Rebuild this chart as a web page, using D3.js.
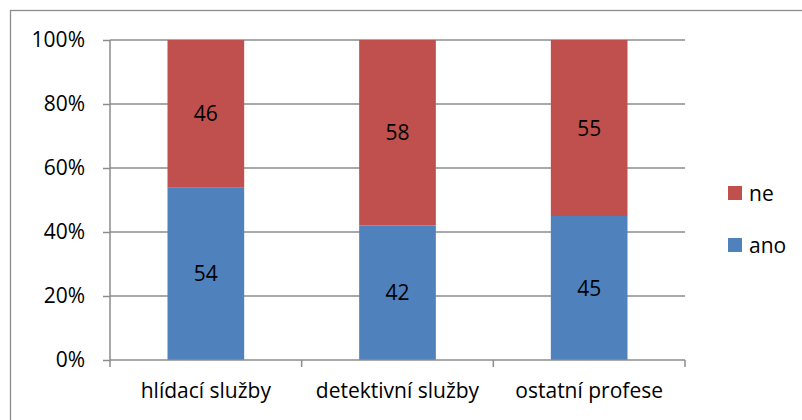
<!DOCTYPE html>
<html>
<head>
<meta charset="utf-8">
<script src="https://cdn.jsdelivr.net/npm/d3@7"></script>
<style>
  body { margin: 0; background: #fff; }
  svg text { font-family: "Open Sans", "Liberation Sans", sans-serif; fill: #000; }
</style>
</head>
<body>
<svg width="802" height="420"></svg>
<script>
// categories and series values (percent)
var categories = ["hlídací služby", "detektivní služby", "ostatní profese"];
var ano = [54, 42, 45];
var ne = [46, 58, 55];
var yTicks = [0, 20, 40, 60, 80, 100];

var svg = d3.select("svg");
var fs = "21px";

// outer chart border (only left/top edges fall inside the picture)
svg.append("rect")
    .attr("x", 10.5).attr("y", 10.5)
    .attr("width", 820).attr("height", 440)
    .attr("fill", "none")
    .attr("stroke", "#8c8c8c")
    .attr("stroke-width", 1.3);

var margin = {top: 40, left: 110},
    width = 575,
    height = 320,
    g = svg.append("g").attr("transform", "translate(" + margin.left + "," + margin.top + ")");

var x = d3.scaleBand()
    .domain(categories)
    .range([0, width])
    .paddingInner(0.6)
    .paddingOuter(0.3);

var y = d3.scaleLinear()
    .domain([0, 100])
    .range([height, 0]);

// gridlines
g.selectAll(".grid")
    .data(yTicks.slice(1))
    .enter().append("line")
    .attr("x1", 0).attr("x2", width)
    .attr("y1", function(d) { return y(d); })
    .attr("y2", function(d) { return y(d); })
    .attr("stroke", "#8c8c8c")
    .attr("stroke-width", 1.5);

// stacked data
var rows = categories.map(function(c, i) {
    return {cat: c, ano: ano[i], ne: ne[i]};
});
var stack = d3.stack().keys(["ano", "ne"])(rows);
var colors = {ano: "#4f81bd", ne: "#c0504d"};

var layers = g.selectAll(".layer")
    .data(stack)
    .enter().append("g")
    .attr("fill", function(d) { return colors[d.key]; });

layers.selectAll("rect")
    .data(function(d) { return d; })
    .enter().append("rect")
    .attr("x", function(d) { return x(d.data.cat); })
    .attr("width", x.bandwidth())
    .attr("y", function(d) { return y(d[1]); })
    .attr("height", function(d) { return y(d[0]) - y(d[1]); });

layers.selectAll("text")
    .data(function(d) { return d; })
    .enter().append("text")
    .attr("x", function(d) { return x(d.data.cat) + x.bandwidth() / 2; })
    .attr("y", function(d) { return (y(d[0]) + y(d[1])) / 2; })
    .attr("dy", "0.36em")
    .attr("text-anchor", "middle")
    .style("font-size", fs)
    .text(function(d) { return d[1] - d[0]; });

// y axis
var yAxis = g.append("g")
    .call(d3.axisLeft(y).tickValues(yTicks).tickFormat(function(d) { return d + "%"; }).tickSize(7).tickPadding(18));
yAxis.selectAll("line, path").attr("stroke", "#8c8c8c").attr("stroke-width", 1.5);
yAxis.select(".domain").attr("d", "M0," + height + "V0");
yAxis.selectAll("text").style("font-size", fs);

// x axis with ticks between categories
var xAxis = g.append("g")
    .attr("transform", "translate(0," + height + ")");
xAxis.append("line")
    .attr("x1", 0).attr("x2", width)
    .attr("stroke", "#8c8c8c").attr("stroke-width", 1.5);
xAxis.selectAll(".tk")
    .data(d3.range(categories.length + 1))
    .enter().append("line")
    .attr("x1", function(i) { return i * width / categories.length; })
    .attr("x2", function(i) { return i * width / categories.length; })
    .attr("y1", 0).attr("y2", 7)
    .attr("stroke", "#8c8c8c").attr("stroke-width", 1.5);
xAxis.selectAll(".lbl")
    .data(categories)
    .enter().append("text")
    .attr("x", function(d) { return x(d) + x.bandwidth() / 2; })
    .attr("y", 30)
    .attr("dy", "0.36em")
    .attr("text-anchor", "middle")
    .style("font-size", fs)
    .text(function(d) { return d; });

// legend
var legend = svg.append("g").attr("transform", "translate(728,186)");
var legItems = ["ne", "ano"];
legItems.forEach(function(k, i) {
    var lg = legend.append("g").attr("transform", "translate(0," + (i * 52) + ")");
    lg.append("rect").attr("width", 14).attr("height", 14).attr("fill", colors[k]);
    lg.append("text").attr("x", 21).attr("y", 7).attr("dy", "0.36em")
        .style("font-size", fs).text(k);
});
</script>
</body>
</html>
